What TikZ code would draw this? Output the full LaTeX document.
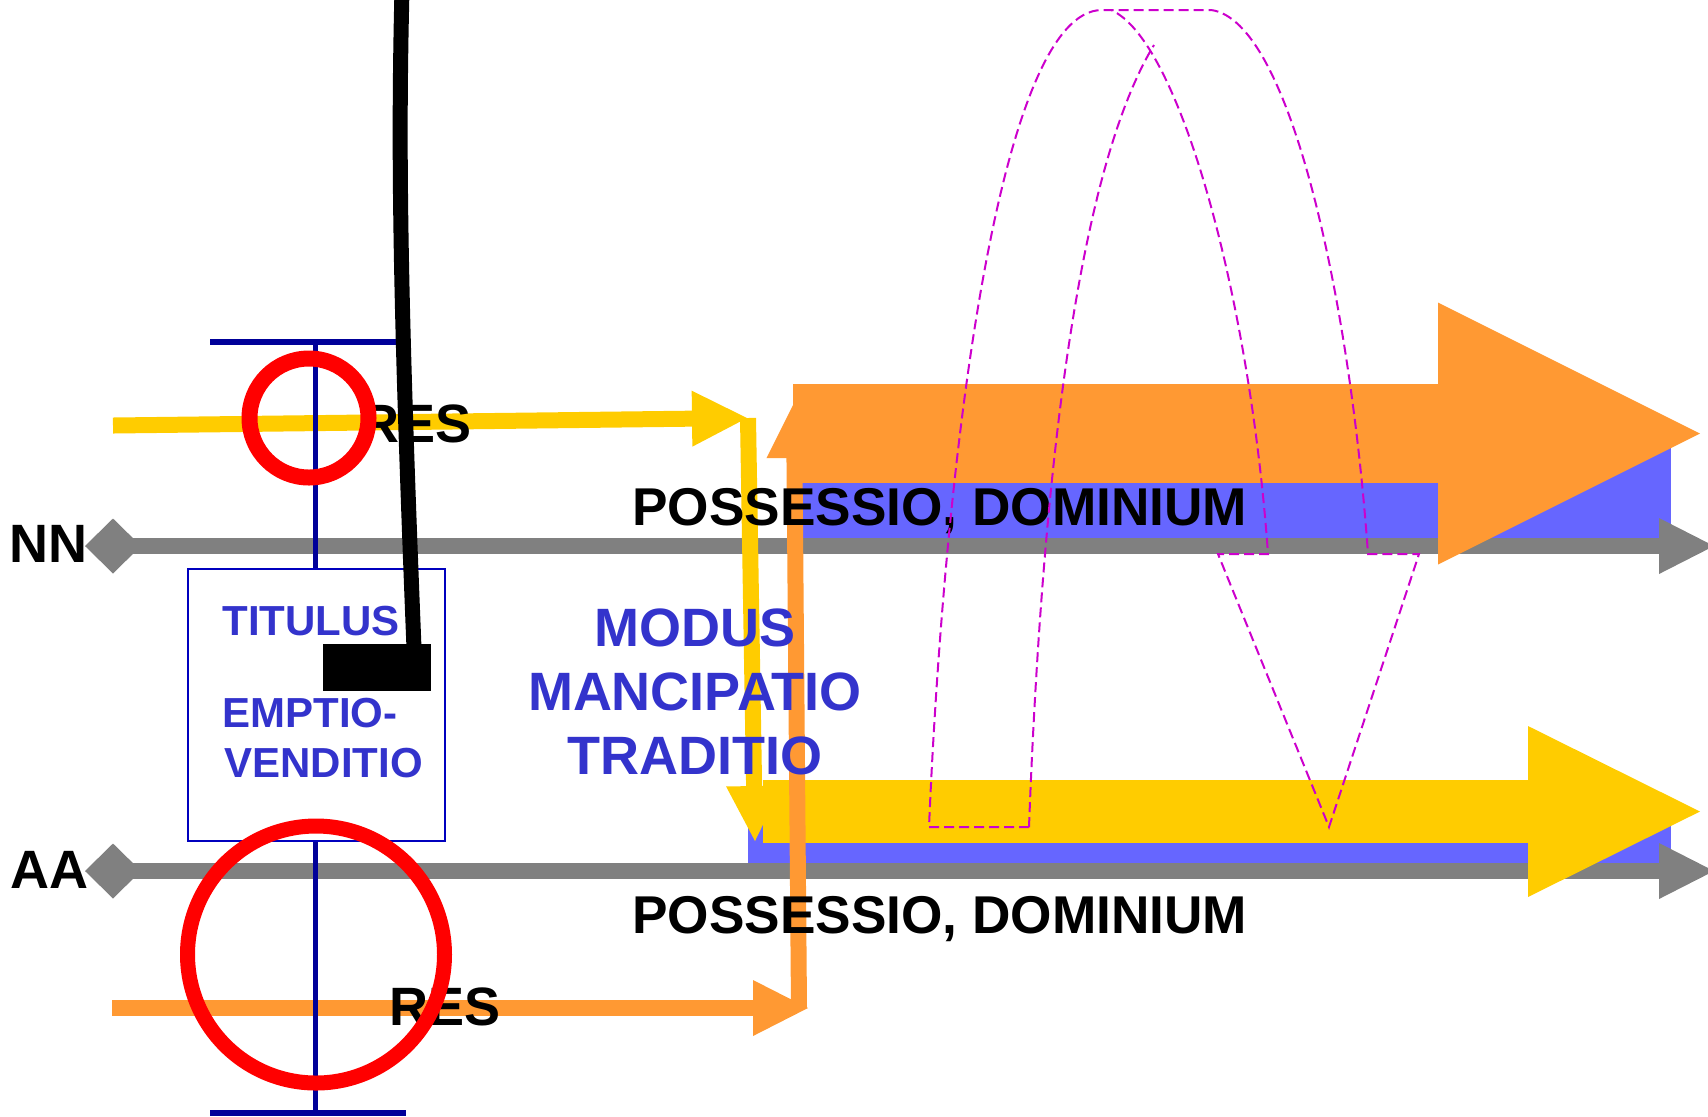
\documentclass[tikz,border=0pt]{standalone}
\usepackage{fontspec}
\setmainfont{Liberation Sans}
\usetikzlibrary{arrows.meta}

\definecolor{resyellow}{RGB}{255,204,0}
\definecolor{resorange}{RGB}{255,153,51}
\definecolor{possblue}{RGB}{102,102,255}
\definecolor{axisgray}{RGB}{128,128,128}
\definecolor{tnavy}{RGB}{0,0,153}
\definecolor{boxblue}{RGB}{0,0,190}
\definecolor{textblue}{RGB}{51,51,204}
\definecolor{dashmag}{RGB}{204,0,204}

\tikzset{
  bigtext/.style={font=\fontsize{27pt}{32pt}\selectfont\bfseries, inner sep=0pt},
  posstext/.style={font=\fontsize{26.6pt}{32pt}\selectfont\bfseries, inner sep=0pt, anchor=base west},
  boxtext/.style={font=\fontsize{21pt}{25pt}\selectfont\bfseries, text=textblue, inner sep=0pt, anchor=base west},
  axis/.style={axisgray, line width=8pt,
    {Diamond[length=28pt,width=27.5pt,line width=0pt]}-{Triangle[length=27.5pt,width=28pt,line width=0pt]}},
  thinarrow/.style={line width=8pt, -{Triangle[length=27.5pt,width=28pt,line width=0pt]}},
  ring/.style={red, line width=8pt}
}

\begin{document}
\begin{tikzpicture}[x=0.5pt, y=-0.5pt]
    \useasboundingbox (0,0) rectangle (1708,1116);

    \fill[possblue] (801,448) rectangle (1671,538);
    \fill[possblue] (748,797) rectangle (1671,864);

    \coordinate (nnstart) at (85,546);
    \coordinate (nnend) at (1714,546);
    \coordinate (aastart) at (85,871);
    \coordinate (aaend) at (1714,871);
    \draw[axis] (nnstart) -- (nnend);
    \draw[axis] (aastart) -- (aaend);

    \coordinate (possA) at (793,433.5);
    \coordinate (possB) at (1700,433.5);
    \coordinate (domA) at (763,811.5);
    \coordinate (domB) at (1700,811.5);
    \draw[resorange, line width=49.5pt, -{Triangle[length=131pt,width=131pt,line width=0pt]}] (possA) -- (possB);
    \draw[resyellow, line width=31.5pt, -{Triangle[length=86pt,width=85.5pt,line width=0pt]}] (domA) -- (domB);

    \coordinate (resA) at (113,425.5);
    \coordinate (resB) at (747,418);
    \coordinate (resC) at (748,418);
    \coordinate (resD) at (755,841);
    \draw[resyellow, thinarrow] (resA) -- (resB);
    \draw[resyellow, thinarrow] (resC) -- (resD);

    \coordinate (resE) at (112,1008);
    \coordinate (resF) at (808,1008);
    \coordinate (resG) at (799,1008);
    \coordinate (resH) at (794,403);
    \draw[resorange, thinarrow] (resE) -- (resF);
    \draw[resorange, thinarrow] (resG) -- (resH);

    \node (titulusbox) [draw=boxblue, line width=1pt, minimum width=128.5pt, minimum height=136pt, inner sep=0pt] at (316.5,705) {};

    \coordinate (tbarL) at (210,342);
    \coordinate (tbarR) at (405,342);
    \coordinate (tbar) at (315,342);
    \coordinate (bbarL) at (210,1113);
    \coordinate (bbarR) at (406,1113);
    \coordinate (bbar) at (315,1113);
    \draw[tnavy, line width=3pt] (tbarL) -- (tbarR);
    \draw[tnavy, line width=3pt] (bbarL) -- (bbarR);
    \draw[tnavy, line width=2.5pt] (tbar) -- (tbar |- titulusbox.north);
    \draw[tnavy, line width=2.5pt] (bbar) -- (bbar |- titulusbox.south);

    \node (nn) [bigtext, anchor=base west] at (9,562) {NN};
    \node (aa) [bigtext, anchor=base west] at (10,888) {AA};
    \node (resup) [bigtext, anchor=base west] at (360,442) {RES};
    \node (reslow) [bigtext, anchor=base west] at (389,1025) {RES};
    \node (posup) [posstext] at (632,525) {POSSESSIO, DOMINIUM};
    \node (poslow) [posstext] at (632,933) {POSSESSIO, DOMINIUM};
    \node (modus) [bigtext, text=textblue, anchor=base] at (695,646) {MODUS};
    \node (mancipatio) [bigtext, text=textblue, anchor=base] at (695,710) {MANCIPATIO};
    \node (traditio) [bigtext, text=textblue, anchor=base] at (695,774) {TRADITIO};
    \node (titulus) [boxtext] at (222,635) {TITULUS};
    \node (emptio) [boxtext] at (222,727) {EMPTIO-};
    \node (venditio) [boxtext] at (224,777) {VENDITIO};

    % curved arrow outline
    \draw[dashmag, line width=1pt, dash pattern=on 5pt off 2.5pt]
      (1029,827) -- (929,827) .. controls (945,450) and (1000,10) .. (1102,10)
      -- (1211,10) .. controls (1290,20) and (1350,300) .. (1368,554)
      -- (1419,554) -- (1329,827) -- (1218,554) -- (1268,554)
      .. controls (1250,300) and (1180,40) .. (1111,10);
    \draw[dashmag, line width=1pt, dash pattern=on 5pt off 2.5pt]
      (1029,827) .. controls (1045,400) and (1090,150) .. (1154,45);

    \draw[ring] (309,418) circle (59.5);
    \draw[ring, line width=7.5pt] (316,954.5) circle (128.5);

    \fill (323,644) rectangle (431,691);
    \draw[line width=7.5pt] (402,-10) .. controls (398,150) and (400,300) .. (414,648);
  \end{tikzpicture}
\end{document}
